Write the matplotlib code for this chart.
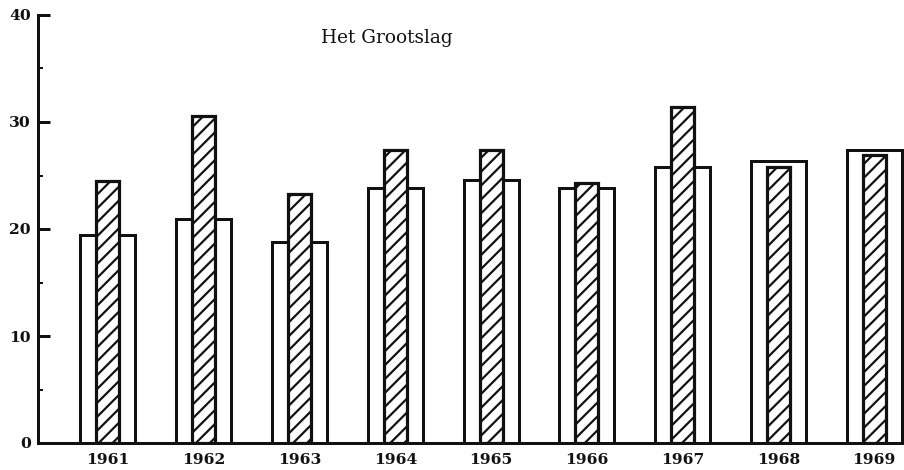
import matplotlib
matplotlib.use("Agg")
import matplotlib.pyplot as plt
import numpy as np

years = ["1961", "1962", "1963", "1964", "1965", "1966", "1967", "1968", "1969"]
open_vals = [19.4, 20.9, 18.8, 23.8, 24.6, 23.8, 25.8, 26.4, 27.4]
hatched_vals = [24.5, 30.6, 23.3, 27.4, 27.4, 24.3, 31.4, 25.8, 26.9]
title_text = "Het Grootslag"

DPI = 125
W, H = 904, 470
def pt(px):
    return px * 72.0 / DPI

plt.rcParams['hatch.linewidth'] = pt(2.2)
plt.rcParams['hatch.color'] = '#111111'

fig = plt.figure(figsize=(W / DPI, H / DPI), dpi=DPI)
ax = fig.add_axes([38 / W, 1 - 443 / H, 1 - 38 / W, (443 - 15) / H])

x = np.arange(len(years))
ax.bar(x, open_vals, width=0.575, facecolor='white', edgecolor='#111111',
       linewidth=pt(3), zorder=2)
ax.bar(x, hatched_vals, width=0.24, facecolor='white', edgecolor='#111111',
       linewidth=pt(3.2), hatch='///', zorder=3)

ax.set_xlim(-0.73, len(years) - 1 + 0.31)
ax.set_ylim(0, 40)

for s in ['top', 'right']:
    ax.spines[s].set_visible(False)
for s in ['left', 'bottom']:
    ax.spines[s].set_linewidth(pt(3))
    ax.spines[s].set_color('#111111')
    ax.spines[s].set_zorder(4)

ax.set_yticks([0, 10, 20, 30, 40])
ax.set_yticks([5, 15, 25, 35], minor=True)
ax.set_xticks(x)
ax.set_xticklabels(years)

for lab in ax.get_xticklabels() + ax.get_yticklabels():
    lab.set_fontfamily('DejaVu Serif')
    lab.set_fontweight('bold')
    lab.set_fontsize(pt(15.5))
    lab.set_color('#111111')

ax.tick_params(axis='y', which='major', direction='in', length=pt(12),
               width=pt(3), pad=pt(7), color='#111111')
ax.tick_params(axis='y', which='minor', direction='in', length=pt(5),
               width=pt(2), color='#111111')
ax.tick_params(axis='x', which='both', length=0, pad=pt(10))

fig.text(387 / W, 1 - 38 / H, title_text, ha='center', va='center',
         fontfamily='DejaVu Serif', fontsize=pt(18.5), color='#111111')

fig.savefig("out.png", dpi=DPI)
